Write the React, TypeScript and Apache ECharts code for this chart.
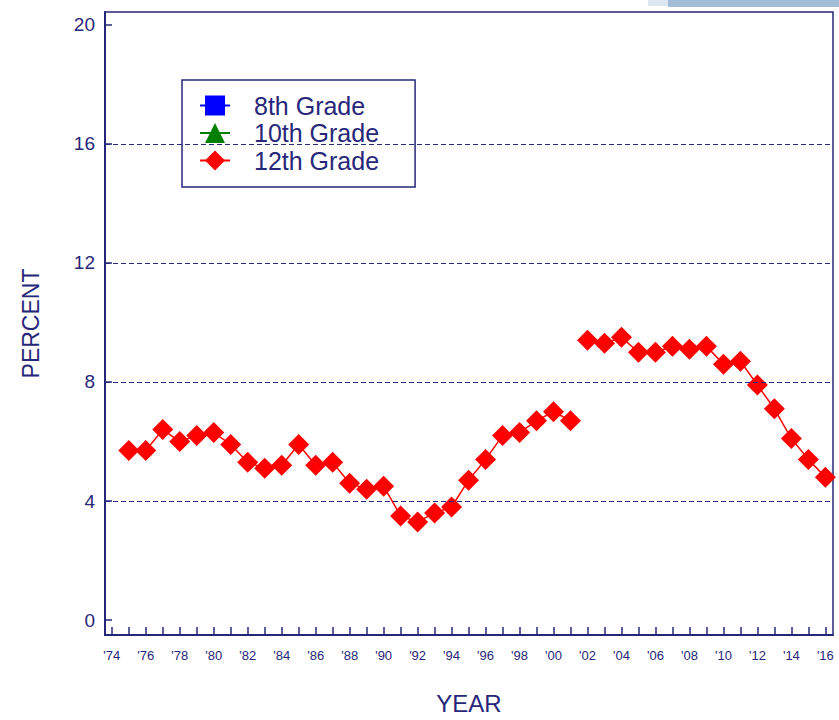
import React, { useEffect, useRef } from "react";
import * as echarts from "echarts";

const NAVY = "#27277a";
const FONT = "'Liberation Sans', Arial, sans-serif";

const legendNames = ["8th Grade", "10th Grade", "12th Grade"];

// 12th grade, first segment (1975-2001)
const years1 = [1975, 1976, 1977, 1978, 1979, 1980, 1981, 1982, 1983, 1984, 1985, 1986, 1987, 1988, 1989, 1990, 1991, 1992, 1993, 1994, 1995, 1996, 1997, 1998, 1999, 2000, 2001];
const pct1 = [5.7, 5.7, 6.4, 6.0, 6.2, 6.3, 5.9, 5.3, 5.1, 5.2, 5.9, 5.2, 5.3, 4.6, 4.4, 4.5, 3.5, 3.3, 3.6, 3.8, 4.7, 5.4, 6.2, 6.3, 6.7, 7.0, 6.7];
// 12th grade, second segment (2002-2016)
const years2 = [2002, 2003, 2004, 2005, 2006, 2007, 2008, 2009, 2010, 2011, 2012, 2013, 2014, 2015, 2016];
const pct2 = [9.4, 9.3, 9.5, 9.0, 9.0, 9.2, 9.1, 9.2, 8.6, 8.7, 7.9, 7.1, 6.1, 5.4, 4.8];

const yTickValues = [0, 4, 8, 12, 16, 20];
const gridValues = [4, 8, 12, 16];
const xTickYears = [1974, 1975, 1976, 1977, 1978, 1979, 1980, 1981, 1982, 1983, 1984, 1985, 1986, 1987, 1988, 1989, 1990, 1991, 1992, 1993, 1994, 1995, 1996, 1997, 1998, 1999, 2000, 2001, 2002, 2003, 2004, 2005, 2006, 2007, 2008, 2009, 2010, 2011, 2012, 2013, 2014, 2015, 2016];
const xLabelYears = [1974, 1976, 1978, 1980, 1982, 1984, 1986, 1988, 1990, 1992, 1994, 1996, 1998, 2000, 2002, 2004, 2006, 2008, 2010, 2012, 2014, 2016];

export default function App() {
  const ref = useRef<HTMLDivElement>(null);
  useEffect(() => {
    if (!ref.current) return;
    const chart = echarts.init(ref.current, null, { renderer: "svg" });
    const seg1 = years1.map((y, i) => [y, pct1[i]]);
    const seg2 = years2.map((y, i) => [y, pct2[i]]);
    const redSeries = (data: number[][]) => ({
      name: "12th Grade",
      type: "line",
      data,
      z: 4,
      symbol: "diamond",
      symbolSize: 21,
      itemStyle: { color: "#ff0000" },
      lineStyle: { color: "#ff0000", width: 1.5 },
    });
    chart.setOption({
      animation: false,
      backgroundColor: "#ffffff",
      textStyle: { fontFamily: FONT },
      grid: {
        left: 105,
        right: 6,
        top: 12,
        bottom: 80,
        show: true,
        borderColor: NAVY,
        borderWidth: 1.5,
      },
      legend: {
        data: legendNames,
        orient: "vertical",
        left: 182,
        top: 80,
        padding: [13, 36, 14, 17],
        borderColor: NAVY,
        borderWidth: 1.5,
        itemWidth: 30,
        itemHeight: 25,
        itemGap: 2.5,
        textStyle: {
          color: NAVY,
          fontSize: 25,
          fontFamily: FONT,
          padding: [0, 0, 0, 19],
        },
      },
      xAxis: {
        type: "value",
        min: 1973.6,
        max: 2016.45,
        name: "YEAR",
        nameLocation: "middle",
        nameGap: 56,
        nameTextStyle: { color: NAVY, fontSize: 24, fontFamily: FONT },
        axisLine: { show: true, onZero: false, lineStyle: { color: NAVY, width: 2 } },
        axisTick: {
          show: true,
          inside: true,
          length: 8,
          customValues: xTickYears,
          lineStyle: { color: NAVY, width: 1.5 },
        },
        axisLabel: {
          customValues: xLabelYears,
          color: NAVY,
          fontSize: 13,
          margin: 14,
          fontFamily: FONT,
          formatter: (v: number) => "'" + String(v).slice(2),
        },
        splitLine: { show: false },
      },
      yAxis: {
        type: "value",
        min: -0.5,
        max: 20.43,
        name: "PERCENT",
        nameLocation: "middle",
        nameRotate: 90,
        nameGap: 63,
        nameTextStyle: { color: NAVY, fontSize: 23, fontFamily: FONT },
        axisLine: { show: true, onZero: false, lineStyle: { color: NAVY, width: 2 } },
        axisTick: {
          show: true,
          inside: true,
          length: 7,
          customValues: yTickValues,
          lineStyle: { color: NAVY, width: 1.5 },
        },
        axisLabel: {
          customValues: yTickValues,
          color: NAVY,
          fontSize: 19,
          margin: 10,
          fontFamily: FONT,
        },
        splitLine: { show: false },
      },
      graphic: [
        { type: "rect", shape: { x: 668, y: 0, width: 171, height: 7 }, style: { fill: "#a3bcd8" } },
        { type: "rect", shape: { x: 648, y: 0, width: 20, height: 6 }, style: { fill: "#dde7f2" } },
      ],
      series: [
        {
          name: "8th Grade",
          type: "line",
          data: [],
          symbol: "rect",
          symbolSize: 18,
          itemStyle: { color: "#0000ff" },
          lineStyle: { color: "#0000ff", width: 1.5 },
          markLine: {
            silent: true,
            symbol: "none",
            label: { show: false },
            lineStyle: { color: NAVY, type: [5, 3], width: 1.2 },
            data: gridValues.map((v) => ({ yAxis: v })),
          },
        },
        {
          name: "10th Grade",
          type: "line",
          data: [],
          symbol: "triangle",
          symbolSize: 18,
          itemStyle: { color: "#008000" },
          lineStyle: { color: "#008000", width: 1.5 },
        },
        redSeries(seg1),
        redSeries(seg2),
      ],
    });
    return () => chart.dispose();
  }, []);
  return (
    <div
      ref={ref}
      style={{ position: "fixed", left: 0, top: 0, width: 839, height: 720 }}
    />
  );
}
